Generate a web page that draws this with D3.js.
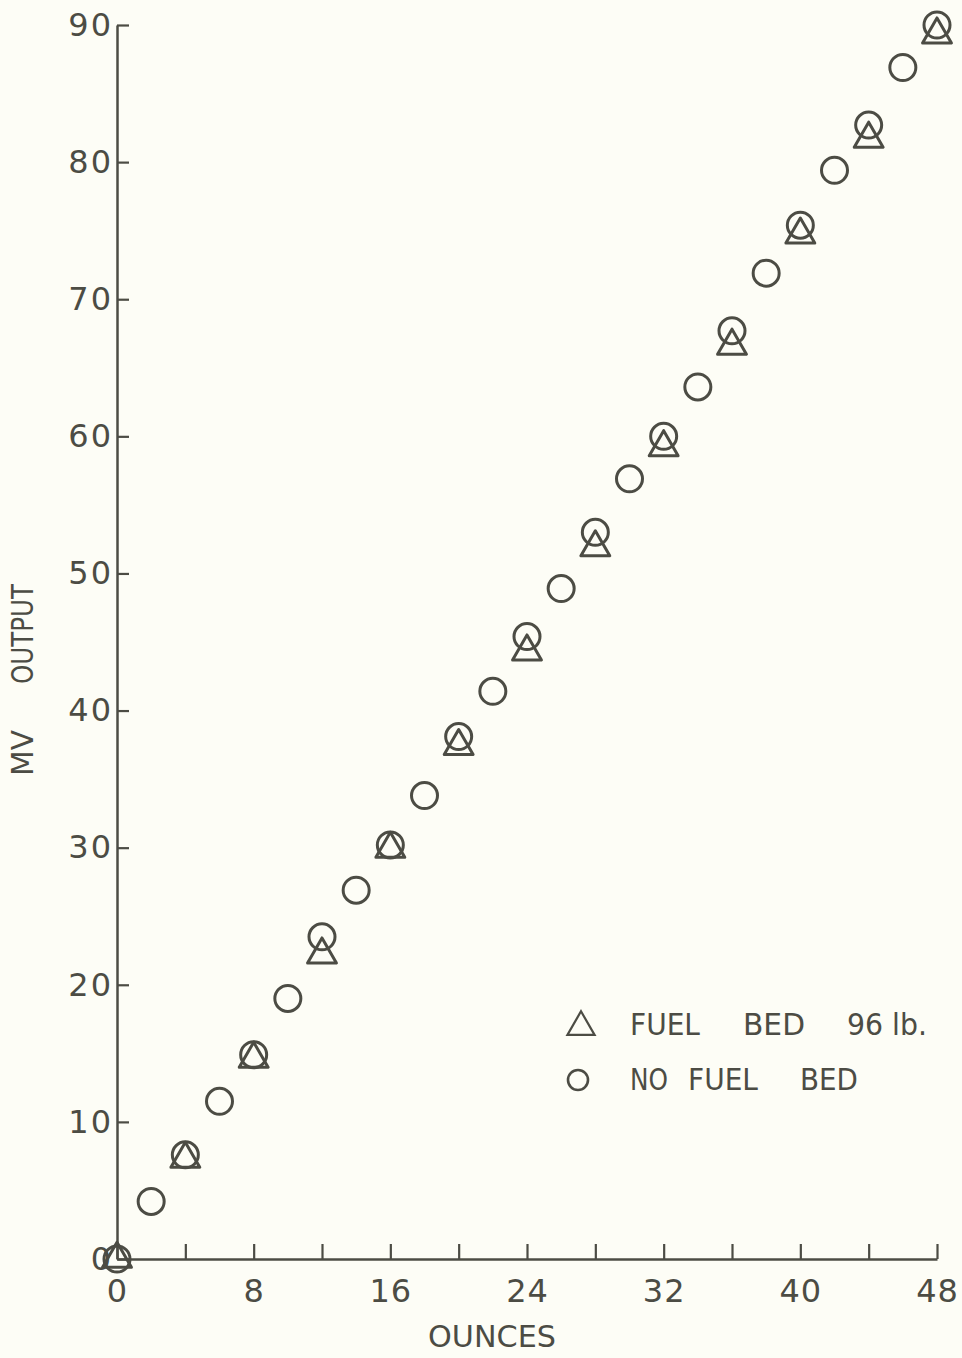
<!DOCTYPE html>
<html>
<head>
<meta charset="utf-8">
<script src="https://cdn.jsdelivr.net/npm/d3@7"></script>
<style>
  html, body { margin: 0; padding: 0; background: #fdfdf6; }
  svg { display: block; }
  text { font-family: "DejaVu Sans", sans-serif; fill: #4c4c44; }
</style>
</head>
<body>
<script>
// ---- data ----
const ouncesNoFuel = [0, 2, 4, 6, 8, 10, 12, 14, 16, 18, 20, 22, 24, 26, 28, 30, 32, 34, 36, 38, 40, 42, 44, 46, 48];
const mvNoFuel = [0, 4.2, 7.6, 11.5, 14.9, 19.0, 23.5, 26.9, 30.2, 33.8, 38.1, 41.4, 45.4, 48.9, 53.0, 56.9, 60.0, 63.6, 67.7, 71.9, 75.4, 79.4, 82.7, 86.9, 90.0];
const ouncesFuel = [0, 4, 8, 12, 16, 20, 24, 28, 32, 36, 40, 44, 48];
const mvFuel = [0, 7.3, 14.6, 22.2, 29.9, 37.4, 44.3, 51.9, 59.2, 66.6, 74.7, 81.7, 89.3];
const xTicks = [0, 4, 8, 12, 16, 20, 24, 28, 32, 36, 40, 44, 48];
const xTickLabels = ["0", "", "8", "", "16", "", "24", "", "32", "", "40", "", "48"];
const yTicks = [0, 10, 20, 30, 40, 50, 60, 70, 80, 90];
const yTickLabels = ["0", "10", "20", "30", "40", "50", "60", "70", "80", "90"];
const legendLabels = [["FUEL", "BED", "96 lb."], ["NO", "FUEL", "BED"]];
const xTitle = "OUNCES";
const yTitle = ["MV", "OUTPUT"];

// ---- layout ----
const W = 962, H = 1358;
const ink = "#4c4c44";
const svg = d3.select("body").append("svg").attr("width", W).attr("height", H);
svg.append("rect").attr("width", W).attr("height", H).attr("fill", "#fdfdf6");

const x = d3.scaleLinear().domain([0, 48]).range([117, 937]);
const y = d3.scaleLinear().domain([0, 90]).range([1259, 25]);

// x axis
const xAxis = d3.axisBottom(x)
  .tickValues(xTicks)
  .tickFormat((d, i) => xTickLabels[i])
  .tickSizeInner(-15).tickSizeOuter(0).tickPadding(20);
const gx = svg.append("g").attr("transform", `translate(0,${y(0)})`).call(xAxis);
gx.select(".domain").attr("stroke", ink).attr("stroke-width", 2.5);
gx.selectAll(".tick line").attr("stroke", ink).attr("stroke-width", 2.2);
gx.selectAll(".tick text").attr("font-size", 32).attr("fill", ink)
  .style("font-family", "DejaVu Sans, sans-serif").attr("letter-spacing", 1);

// y axis
const yAxis = d3.axisLeft(y)
  .tickValues(yTicks)
  .tickFormat((d, i) => yTickLabels[i])
  .tickSizeInner(-12).tickSizeOuter(0).tickPadding(4);
const gy = svg.append("g").attr("transform", `translate(${x(0)},0)`).call(yAxis);
gy.select(".domain").attr("stroke", ink).attr("stroke-width", 2.5);
gy.selectAll(".tick line").attr("stroke", ink).attr("stroke-width", 2.2);
gy.selectAll(".tick text").attr("font-size", 32).attr("fill", ink)
  .style("font-family", "DejaVu Sans, sans-serif").attr("letter-spacing", 2);

// axis titles
svg.append("text").attr("x", 492).attr("y", 1347).attr("text-anchor", "middle")
  .attr("font-size", 30).attr("textLength", 128).attr("lengthAdjust", "spacingAndGlyphs")
  .text(xTitle);
const yt = svg.append("g").attr("transform", "translate(33,0) rotate(-90)");
yt.append("text").attr("x", -776).attr("y", 0).attr("font-size", 30)
  .attr("textLength", 46).attr("lengthAdjust", "spacingAndGlyphs").text(yTitle[0]);
yt.append("text").attr("x", -684).attr("y", 0).attr("font-size", 30)
  .attr("textLength", 100).attr("lengthAdjust", "spacingAndGlyphs").text(yTitle[1]);

// data
const noFuel = ouncesNoFuel.map((o, i) => ({ o, v: mvNoFuel[i] }));
const fuel = ouncesFuel.map((o, i) => ({ o, v: mvFuel[i] }));

svg.append("g").selectAll("circle").data(noFuel).join("circle")
  .attr("cx", d => x(d.o)).attr("cy", d => y(d.v)).attr("r", 13)
  .attr("fill", "none").attr("stroke", ink).attr("stroke-width", 3);

const tri = d3.symbol().type(d3.symbolTriangle).size(361);
svg.append("g").selectAll("path").data(fuel).join("path")
  .attr("d", tri).attr("transform", d => `translate(${x(d.o)},${y(d.v)})`)
  .attr("fill", "none").attr("stroke", ink).attr("stroke-width", 3)
  .attr("stroke-linejoin", "round");

// legend
const lg = svg.append("g");
lg.append("path").attr("d", d3.symbol().type(d3.symbolTriangle).size(320)())
  .attr("transform", "translate(581,1027)")
  .attr("fill", "none").attr("stroke", ink).attr("stroke-width", 2.2);
lg.append("circle").attr("cx", 578).attr("cy", 1080).attr("r", 10)
  .attr("fill", "none").attr("stroke", ink).attr("stroke-width", 2.6);
const wordX = [[630, 743, 847], [630, 688, 800]];
const wordW = [[70, 62, 80], [38, 70, 58]];
const rowY = [1035, 1090];
legendLabels.forEach((row, r) => {
  row.forEach((w, k) => {
    lg.append("text").attr("x", wordX[r][k]).attr("y", rowY[r])
      .attr("font-size", 30).attr("fill", ink)
      .attr("textLength", wordW[r][k]).attr("lengthAdjust", "spacingAndGlyphs").text(w);
  });
});
</script>
</body>
</html>
